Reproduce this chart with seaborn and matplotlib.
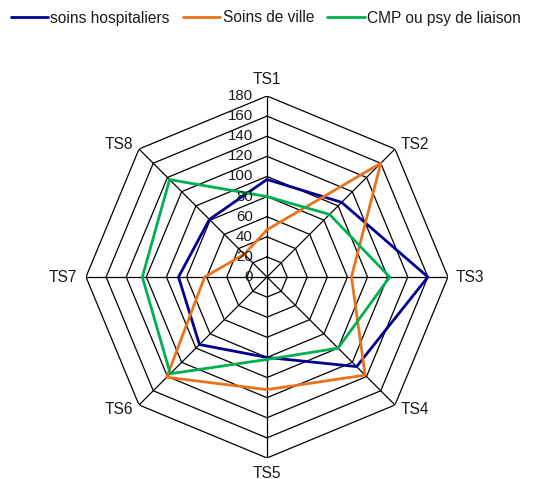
import numpy as np
import pandas as pd
import matplotlib
matplotlib.use("Agg")
import matplotlib.pyplot as plt
from matplotlib.lines import Line2D
import seaborn as sns

# Axis categories and the three series
categories = ["TS1", "TS2", "TS3", "TS4", "TS5", "TS6", "TS7", "TS8"]
soins_hospitaliers = [97, 105, 160, 126, 80, 95, 88, 81]
soins_de_ville = [47, 160, 84, 138, 112, 141, 62, 32]
cmp_psy_liaison = [80, 88, 122, 100, 82, 136, 124, 137]
series_names = ["soins hospitaliers", "Soins de ville", "CMP ou psy de liaison"]
tick_values = [0, 20, 40, 60, 80, 100, 120, 140, 160, 180]

colors = ["#000094", "#E8731C", "#00B050"]
r_max = 180

sns.set_theme(style="white")
plt.rcParams["font.family"] = ["Liberation Sans", "DejaVu Sans"]

n = len(categories)
angles = np.linspace(0, 2 * np.pi, n, endpoint=False)

# Long-form table, each polygon closed by repeating its first vertex
rows = []
for name, vals in zip(series_names, [soins_hospitaliers, soins_de_ville, cmp_psy_liaison]):
    for i in range(n + 1):
        k = i % n
        rows.append({"theta": angles[k] if i < n else 2 * np.pi, "value": vals[k],
                     "series": name})
df = pd.DataFrame(rows)

W, H, dpi = 537, 479, 100
fig = plt.figure(figsize=(W / dpi, H / dpi), dpi=dpi)
cx, cy, rad = 267, 479 - 277, 181
ax = fig.add_axes([(cx - rad) / W, (cy - rad) / H, 2 * rad / W, 2 * rad / H],
                  projection="polar")
ax.set_theta_zero_location("N")
ax.set_theta_direction(-1)
ax.set_ylim(0, r_max)
ax.grid(False)
ax.spines["polar"].set_visible(False)
ax.set_xticks([])
ax.set_yticks([])
ax.patch.set_alpha(0)

# Octagonal web: rings at each tick level plus spokes
closed = np.append(angles, 2 * np.pi)
for lv in tick_values[1:]:
    ax.plot(closed, [lv] * (n + 1), color="black", lw=0.9, zorder=1)
for a in angles:
    ax.plot([a, a], [0, r_max], color="black", lw=0.9, zorder=1)

sns.lineplot(data=df, x="theta", y="value", hue="series", palette=colors,
             hue_order=series_names, sort=False, estimator=None, units="series",
             lw=2.0, ax=ax, zorder=3, legend=False)
ax.set_xlabel("")
ax.set_ylabel("")

txt_color = "#1a1a1a"

# Radial tick labels along the TS1 spoke
for lv in tick_values:
    ax.annotate(str(lv), xy=(0, lv), xytext=(-14, 0), textcoords="offset pixels",
                ha="right", va="center", fontsize=10.8, color=txt_color)

# Category labels just outside the outer ring
offsets = [((0, 17), "center"), ((6, 5), "left"), ((8, 0), "left"), ((6, -5), "left"),
           ((0, -15), "center"), ((-6, -5), "right"), ((-9, 0), "right"), ((-6, 5), "right")]
for a, lab, (off, ha) in zip(angles, categories, offsets):
    ax.annotate(lab, xy=(a, r_max), xytext=off, textcoords="offset pixels",
                ha=ha, va="center", fontsize=11.2, color=txt_color, annotation_clip=False)

handles = [Line2D([], [], color=c, lw=2.0) for c in colors]
leg = fig.legend(handles, series_names, loc="center", bbox_to_anchor=(0.495, 1 - 18 / H),
                 ncol=3, frameon=False, fontsize=11.2, handlelength=2.4, handletextpad=0.15,
                 columnspacing=0.85)
for t in leg.get_texts():
    t.set_color(txt_color)

fig.savefig("out.png", dpi=dpi)
